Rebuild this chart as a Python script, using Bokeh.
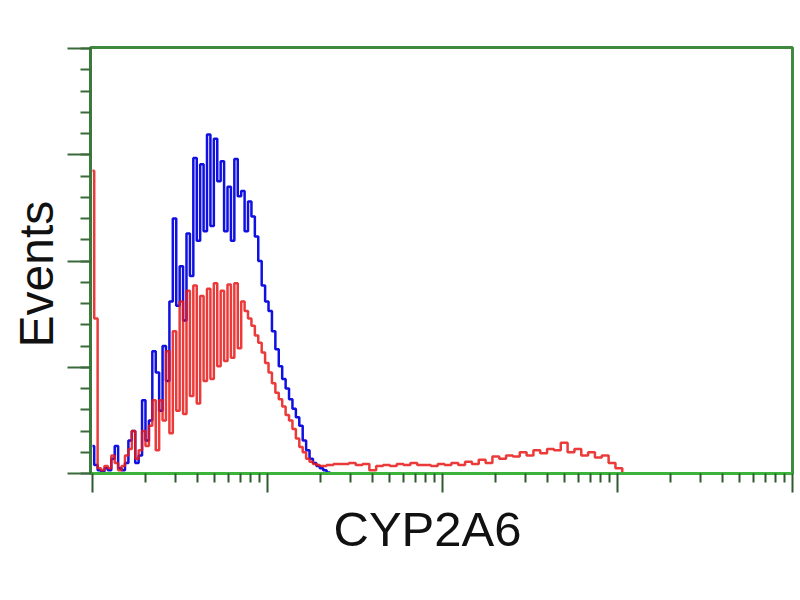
import numpy as np
from bokeh.plotting import figure
from bokeh.models import FixedTicker, SingleIntervalTicker, Title
from bokeh.embed import file_html
from bokeh.resources import INLINE

# histogram channels (1024 channels = 4 log decades) and event counts
channels = [0, 5, 10, 15, 20, 25, 30, 35, 40, 45,
            50, 55, 60, 65, 70, 75, 80, 85, 90, 95,
            100, 105, 110, 115, 120, 125, 130, 135, 140, 145,
            150, 155, 160, 165, 170, 175, 180, 185, 190, 195,
            200, 205, 210, 215, 220, 225, 230, 235, 240, 245,
            250, 255, 260, 265, 270, 275, 280, 285, 290, 295,
            300, 305, 310, 315, 320, 325, 330, 335, 340, 345,
            350, 355]

blue_counts = [26, 8, 3, 2, 5, 3, 14, 26, 5, 3,
               10, 31, 40, 10, 17, 69, 31, 50, 115, 95,
               59, 120, 87, 162, 240, 158, 195, 144, 226, 186,
               297, 219, 291, 228, 319, 233, 315, 275, 294, 228,
               270, 219, 296, 261, 266, 228, 256, 242, 223, 200,
               177, 162, 153, 134, 117, 101, 89, 80, 70, 61,
               53, 45, 31, 22, 14, 10, 7, 5, 3, 1,
               0, 0]

red_counts = [285, 146, 5, 3, 7, 5, 17, 10, 3, 7,
              17, 23, 40, 14, 22, 40, 26, 45, 69, 22,
              69, 50, 115, 38, 134, 59, 162, 56, 172, 73,
              177, 66, 167, 87, 174, 89, 179, 101, 172, 106,
              178, 109, 179, 118, 162, 153, 146, 139, 130, 123,
              114, 104, 95, 85, 76, 70, 63, 55, 50, 42,
              33, 25, 20, 14, 11, 9, 8, 7, 7, 8,
              8, 9]

tail_channels = [370, 380, 390, 400, 410, 420, 430, 440, 450, 460,
                 470, 480, 490, 500, 510, 520, 530, 540, 550, 560,
                 570, 580, 590, 600, 610, 620, 630, 640, 650, 660,
                 670, 680, 690, 700, 710, 720, 730, 740, 750, 760,
                 770, 780]

red_tail = [9, 10, 8, 9, 3, 7, 8, 7, 9, 8,
            10, 8, 8, 7, 9, 8, 10, 8, 11, 9,
            13, 10, 16, 14, 17, 16, 20, 17, 22, 19,
            23, 22, 29, 20, 23, 17, 20, 15, 17, 10,
            5, 0]

decades = [1, 10, 100, 1000, 10000]

blue_x = 10 ** (np.array(channels) / 256)
red_x = 10 ** (np.array(channels + tail_channels) / 256)
red_y = red_counts + red_tail

p = figure(width=798, height=590,
           x_axis_type="log",
           x_range=(0.974, 10000), y_range=(0, 401),
           output_backend="svg", toolbar_location=None,
           min_border_left=90, min_border_right=6,
           min_border_top=47, min_border_bottom=117)

p.grid.visible = False
p.outline_line_color = "#3f8a3f"
p.outline_line_width = 3
p.background_fill_color = "white"
p.border_fill_color = "white"

p.step(blue_x, blue_counts, mode="center", line_color="#1010e0", line_width=2.5)
p.step(red_x, red_y, mode="center", line_color="#e81818", line_width=2.5, line_alpha=0.85)

# bottom (log) axis
p.xaxis.ticker = FixedTicker(ticks=decades,
                             minor_ticks=[m * d for d in decades[:-1] for m in range(2, 10)])
p.xaxis.axis_line_color = "#3cb43c"
p.xaxis.axis_line_width = 3
p.xaxis.major_tick_line_color = "#2f5a2f"
p.xaxis.minor_tick_line_color = "#2f5a2f"
p.xaxis.major_tick_line_width = 2
p.xaxis.minor_tick_line_width = 2
p.xaxis.major_tick_in = 0
p.xaxis.major_tick_out = 19
p.xaxis.minor_tick_in = 0
p.xaxis.minor_tick_out = 9
p.xaxis.major_label_text_font_size = "1px"
p.xaxis.major_label_text_alpha = 0

# left axis
p.yaxis.ticker = SingleIntervalTicker(interval=100, num_minor_ticks=5)
p.yaxis.axis_line_color = "#3a7a3a"
p.yaxis.axis_line_width = 3
p.yaxis.major_tick_line_color = "#3a6a3a"
p.yaxis.minor_tick_line_color = "#3a6a3a"
p.yaxis.major_tick_line_width = 2
p.yaxis.minor_tick_line_width = 2
p.yaxis.major_tick_in = 0
p.yaxis.major_tick_out = 23
p.yaxis.minor_tick_in = 0
p.yaxis.minor_tick_out = 10
p.yaxis.major_label_standoff = 0
p.yaxis.major_label_text_font_size = "1px"
p.yaxis.major_label_text_alpha = 0

p.add_layout(Title(text="CYP2A6", align="left", offset=243, standoff=14,
                   text_font="Liberation Sans", text_font_size="49px",
                   text_font_style="normal", text_color="#111111"), "below")
p.add_layout(Title(text="Events", align="left", offset=126, standoff=10,
                   text_font="Liberation Sans", text_font_size="48px",
                   text_font_style="normal", text_color="#111111"), "left")

open("out.html", "w").write(file_html(p, INLINE))
